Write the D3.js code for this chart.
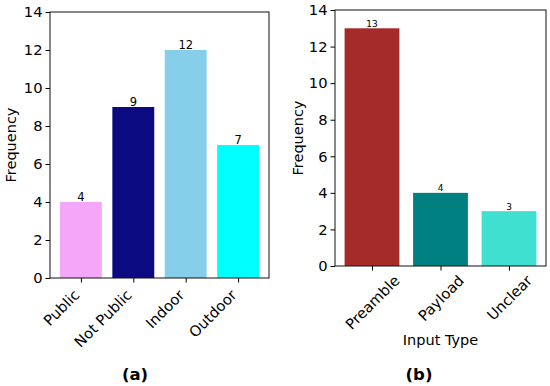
<!DOCTYPE html>
<html><head><meta charset="utf-8">
<script src="https://cdn.jsdelivr.net/npm/d3@7"></script>
<style>body{margin:0;background:#fff}svg{display:block}text{font-family:"DejaVu Sans",sans-serif}</style>
</head><body><svg id="c" width="550" height="386"></svg>
<script>
const catsA = ["Public", "Not Public", "Indoor", "Outdoor"];
const valsA = [4, 9, 12, 7];
const colorsA = ["#f4a6f8", "#0c0a80", "#87ceeb", "#00ffff"];
const catsB = ["Preamble", "Payload", "Unclear"];
const valsB = [13, 4, 3];
const colorsB = ["#a52a2a", "#008080", "#40e0d0"];
const yTicks = [0, 2, 4, 6, 8, 10, 12, 14];

const svg = d3.select("#c");

function panel(o) {
  const g = svg.append("g");
  const n = o.cats.length;
  const x = d3.scaleLinear().domain([-0.4 - 0.05 * (n - 0.2), n - 0.6 + 0.05 * (n - 0.2)]).range([o.left, o.right]);
  const y = d3.scaleLinear().domain([0, 14]).range([o.bottom, o.top]);
  const bw = x(0.8) - x(0);
  g.selectAll("rect.bar").data(o.vals).join("rect")
    .attr("x", (d, i) => x(i - 0.4)).attr("y", d => y(d))
    .attr("width", bw).attr("height", d => y(0) - y(d))
    .attr("fill", (d, i) => o.colors[i]);
  g.selectAll("text.val").data(o.vals).join("text")
    .attr("x", (d, i) => x(i)).attr("y", d => y(d) - 1.5)
    .attr("text-anchor", "middle").attr("font-size", o.valSize).text(d => d);
  // y axis
  const ya = g.append("g").attr("transform", `translate(${o.left},0)`)
    .call(d3.axisLeft(y).tickValues(yTicks).tickSize(4.5).tickPadding(3));
  ya.select(".domain").remove();
  ya.selectAll("text").attr("font-size", 14.7).attr("font-family", "DejaVu Sans").attr("fill", "#000");
  ya.selectAll("line").attr("stroke", "#000");
  // x axis
  const xa = g.append("g").attr("transform", `translate(0,${o.bottom})`)
    .call(d3.axisBottom(x).tickValues(d3.range(n)).tickFormat(i => o.cats[i]).tickSize(4.5).tickPadding(3));
  xa.select(".domain").remove();
  xa.selectAll("line").attr("stroke", "#000");
  const xt = xa.selectAll("text").attr("font-size", 14.7).attr("font-family", "DejaVu Sans").attr("fill", "#000");
  if (o.center) {
    xt.attr("text-anchor", "middle").attr("y", 0).attr("dy", "0.35em")
      .attr("transform", function () {
        const w = this.getComputedTextLength();
        const yc = 8 + (w + 11) * 0.7071 / 2;
        return `translate(0,${yc}) rotate(-45)`;
      });
  } else {
    xt.attr("text-anchor", "end").attr("y", 0).attr("dy", 0)
      .attr("transform", "translate(-1,18) rotate(-45)");
  }
  // frame
  g.append("rect").attr("x", o.left).attr("y", o.top).attr("width", o.right - o.left)
    .attr("height", o.bottom - o.top).attr("fill", "none").attr("stroke", "#111").attr("stroke-width", 1);
  g.append("text").attr("transform", `translate(${o.ylx},${(o.top + o.bottom) / 2}) rotate(-90)`)
    .attr("text-anchor", "middle").attr("dy", "0.35em").attr("font-size", 14.5).text("Frequency");
  if (o.xlabel) g.append("text").attr("x", (o.left + o.right) / 2).attr("y", 345)
    .attr("text-anchor", "middle").attr("font-size", 14.5).text(o.xlabel);
  g.append("text").attr("x", o.capx).attr("y", 380).attr("text-anchor", "middle")
    .attr("font-family", "Liberation Serif").attr("font-weight", "bold").attr("font-size", 16.5).text(o.cap);
}

panel({cats: catsA, vals: valsA, colors: colorsA, left: 50, right: 269, top: 12, bottom: 278,
  valSize: 11.5, ylx: 11, capx: 135, cap: "(a)", center: false});
panel({cats: catsB, vals: valsB, colors: colorsB, left: 335, right: 546, top: 10, bottom: 266,
  valSize: 9, ylx: 298, capx: 419, cap: "(b)", xlabel: "Input Type", center: true});
</script></body></html>
